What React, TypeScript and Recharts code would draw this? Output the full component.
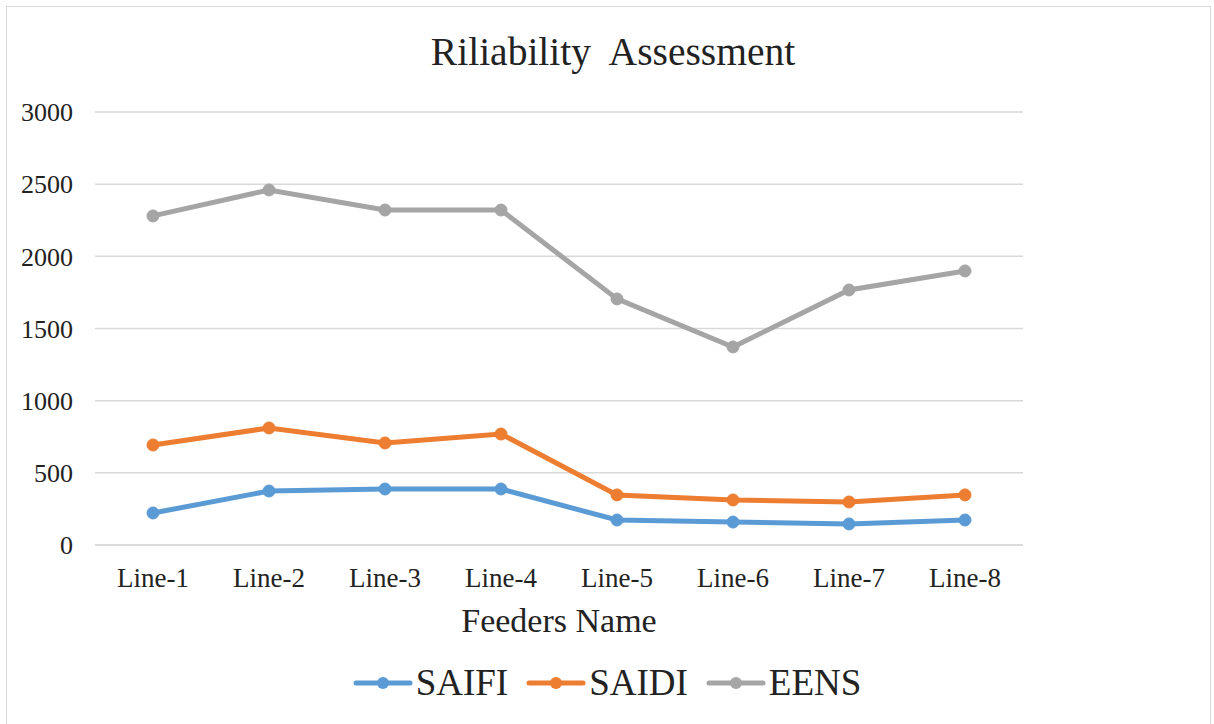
import { LineChart, Line, XAxis, YAxis, CartesianGrid, Legend, Label } from "recharts";

// Feeders and reliability indices
const feeders = ["Line-1", "Line-2", "Line-3", "Line-4", "Line-5", "Line-6", "Line-7", "Line-8"];
const saifi = [222, 374, 388, 388, 173, 159, 146, 173];
const saidi = [693, 811, 707, 769, 347, 312, 298, 347];
const eens = [2280, 2460, 2321, 2321, 1705, 1372, 1767, 1899];
const yTicks = [0, 500, 1000, 1500, 2000, 2500, 3000];

const SERIES = [
  { key: "SAIFI", color: "#5B9BD5" },
  { key: "SAIDI", color: "#ED7D31" },
  { key: "EENS", color: "#A5A5A5" },
];

const FONT = '"Liberation Serif", "Times New Roman", serif';

const data = feeders.map((name, i) => ({
  name,
  SAIFI: saifi[i],
  SAIDI: saidi[i],
  EENS: eens[i],
}));

function LegendRow() {
  return (
    <div style={{ display: "flex", justifyContent: "center", alignItems: "center", gap: 18 }}>
      {SERIES.map((s) => (
        <div key={s.key} style={{ display: "flex", alignItems: "center" }}>
          <svg width={60} height={20}>
            <line x1={3} y1={10} x2={57} y2={10} stroke={s.color} strokeWidth={5} strokeLinecap="round" />
            <circle cx={30} cy={10} r={6} fill={s.color} />
          </svg>
          <span style={{ fontFamily: FONT, fontSize: 37, lineHeight: "44px", color: "#222", marginLeft: 3 }}>
            {s.key}
          </span>
        </div>
      ))}
    </div>
  );
}

export default function App() {
  return (
    <div style={{ position: "fixed", left: 0, top: 0, width: 1214, height: 724, background: "#fff" }}>
      <div
        style={{
          position: "absolute",
          left: 6,
          top: 6,
          width: 1203,
          height: 730,
          border: "1px solid #d9d9d9",
        }}
      />
      <div
        style={{
          position: "absolute",
          top: 29,
          width: 1226,
          textAlign: "center",
          fontFamily: FONT,
          fontSize: 39.5,
          color: "#222",
          whiteSpace: "pre",
        }}
      >
        {"Riliability  Assessment"}
      </div>
      <LineChart
        width={1214}
        height={724}
        data={data}
        margin={{ top: 112, right: 191, bottom: 20, left: 15 }}
      >
        <CartesianGrid vertical={false} stroke="#d9d9d9" strokeWidth={1.5} />
        <XAxis
          dataKey="name"
          height={109}
          padding={{ left: 58, right: 58 }}
          axisLine={{ stroke: "#d9d9d9", strokeWidth: 1.5 }}
          tickLine={false}
          tickMargin={17}
          tick={{ fontFamily: FONT, fontSize: 27, fill: "#222" }}
        >
          <Label
            value="Feeders Name"
            position="insideBottom"
            offset={22}
            style={{ fontFamily: FONT, fontSize: 34, fill: "#222" }}
          />
        </XAxis>
        <YAxis
          width={80}
          domain={[0, 3000]}
          ticks={yTicks}
          axisLine={false}
          tickLine={false}
          tickMargin={16}
          tick={{ fontFamily: FONT, fontSize: 26, fill: "#222" }}
        />
        <Legend
          verticalAlign="bottom"
          height={50}
          wrapperStyle={{ left: 0, width: 1214, bottom: 13 }}
          content={() => <LegendRow />}
        />
        {SERIES.map((s) => (
          <Line
            key={s.key}
            dataKey={s.key}
            stroke={s.color}
            strokeWidth={5}
            dot={{ r: 6, fill: s.color, stroke: s.color, strokeWidth: 1 }}
            isAnimationActive={false}
          />
        ))}
      </LineChart>
    </div>
  );
}
